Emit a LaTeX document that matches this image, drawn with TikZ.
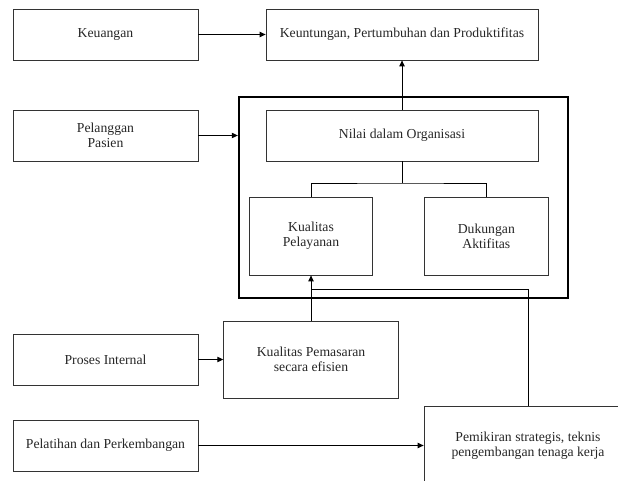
\documentclass[tikz,border=0pt]{standalone}
\usepackage{fontspec}
\setmainfont{Liberation Serif}
\usetikzlibrary{arrows.meta,positioning}

\begin{document}
\begin{tikzpicture}[
    box/.style={draw=black!80, line width=0.6pt, align=center, inner sep=2pt, text=black!85, font=\fontsize{11.7}{13}\selectfont},
    side/.style={box, minimum width=5.55cm, minimum height=1.53cm},
    top/.style={box, minimum width=8.16cm, minimum height=1.53cm},
    inner/.style={box, minimum width=3.7cm, minimum height=2.34cm},
    frame/.style={draw, line width=2pt, minimum width=9.87cm, minimum height=6.03cm},
    arrow/.style={-{Triangle[length=1.8mm, width=1.6mm]}, line width=0.8pt},
    link/.style={line width=0.8pt}
  ]
    \clip (0,0) rectangle (18.54,14.4);

    \node[side] (keuangan) at (3.165,13.365) {Keuangan};
    \node[top] (untung) at (12.06,13.365) {Keuntungan, Pertumbuhan dan Produktifitas};
    \node[side] (pelanggan) at (3.165,10.335) {Pelanggan\\Pasien};
    \node[frame] (nilaibox) at (12.105,8.475) {};
    \node[top] (nilai) at (12.06,10.335) {Nilai dalam Organisasi};
    \node[inner] (layanan) at (9.33,7.32) {Kualitas\\Pelayanan};
    \node[inner] (dukungan) at (14.59,7.32) {Dukungan\\Aktifitas};
    \node[side] (proses) at (3.165,3.615) {Proses Internal};
    \node[box, minimum width=5.24cm, minimum height=2.31cm] (pemasaran) at (9.33,3.615) {Kualitas Pemasaran\\secara efisien};
    \node[side] (pelatihan) at (3.165,1.035) {Pelatihan dan Perkembangan};
    \node[box, minimum width=6.24cm, minimum height=2.4cm] (pemikiran) at (15.84,1.02) {Pemikiran strategis, teknis\\pengembangan tenaga kerja};

    \coordinate (split) at (12.06,8.91);
    \coordinate (join) at (9.33,5.73);

    \draw[arrow] (keuangan) -- (untung);
    \draw[arrow] (pelanggan.east) -- (pelanggan.east -| nilaibox.west);
    \draw[arrow] (nilai) -- (untung);
    \draw[link] (nilai.south) -- (split);
    \draw[link] (layanan.north) |- (split) -| (dukungan.north);
    \draw[arrow] (pemasaran) -- (layanan);
    \draw[link] (pemikiran.north) |- (join);
    \draw[arrow] (proses) -- (pemasaran);
    \draw[arrow] (pelatihan.east) -- (pelatihan.east -| pemikiran.west);
  \end{tikzpicture}
\end{document}
